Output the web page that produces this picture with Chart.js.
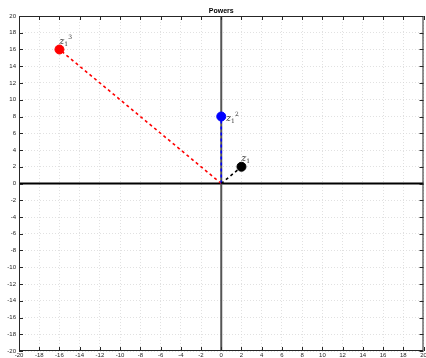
<!DOCTYPE html>
<html lang="en">
<head>
<meta charset="UTF-8" />
<title>Powers</title>
<script src="https://cdn.jsdelivr.net/npm/chart.js"></script>
<style>
  html, body { margin: 0; padding: 0; background: #fff; overflow: hidden; }
  #wrap { width: 426px; height: 358px; overflow: hidden; }
</style>
</head>
<body>
<div id="wrap"><canvas id="powersChart" width="429" height="358"></canvas></div>
<script>
// data
const pointX = [2, 0, -16];
const pointY = [2, 8, 16];
const powers = ['', '2', '3'];
const colors = ['#000000', '#0000ff', '#ff0000'];
const axisMin = -20, axisMax = 20, axisStep = 2;

const lineSets = pointX.map((x, i) => ({
  type: 'line',
  data: [{ x: 0, y: 0 }, { x: x, y: pointY[i] }],
  borderColor: colors[i],
  borderWidth: 1.6,
  borderDash: [3, 3],
  pointRadius: 0,
  fill: false
}));
const dotSets = pointX.map((x, i) => ({
  type: 'scatter',
  data: [{ x: x, y: pointY[i] }],
  backgroundColor: colors[i],
  borderColor: colors[i],
  pointRadius: 4.5
}));

// axes lines, inward ticks, title, point labels
const extras = {
  id: 'extras',
  beforeDatasetsDraw(chart) {
    const { ctx, chartArea: a, scales: { x, y } } = chart;
    ctx.save();
    ctx.lineWidth = 2;
    ctx.strokeStyle = '#000';
    ctx.beginPath();
    ctx.moveTo(a.left, y.getPixelForValue(0));
    ctx.lineTo(a.right, y.getPixelForValue(0));
    ctx.stroke();
    ctx.strokeStyle = '#555';
    ctx.beginPath();
    ctx.moveTo(x.getPixelForValue(0), a.top);
    ctx.lineTo(x.getPixelForValue(0), a.bottom);
    ctx.stroke();
    ctx.restore();
  },
  afterDraw(chart) {
    const { ctx, chartArea: a, scales: { x, y } } = chart;
    ctx.save();
    ctx.strokeStyle = '#262626';
    ctx.lineWidth = 1;
    ctx.strokeRect(a.left + 0.5, a.top + 0.5, a.right - a.left - 1, a.bottom - a.top - 1);
    ctx.beginPath();
    for (let v = axisMin; v <= axisMax; v += axisStep) {
      const px = Math.round(x.getPixelForValue(v)) + 0.5;
      ctx.moveTo(px, a.top); ctx.lineTo(px, a.top + 4);
      ctx.moveTo(px, a.bottom); ctx.lineTo(px, a.bottom - 4);
      const py = Math.round(y.getPixelForValue(v)) + 0.5;
      ctx.moveTo(a.left, py); ctx.lineTo(a.left + 4, py);
      ctx.moveTo(a.right, py); ctx.lineTo(a.right - 4, py);
    }
    ctx.stroke();

    ctx.fillStyle = '#000';
    ctx.font = 'bold 7px "Liberation Sans", Arial, sans-serif';
    ctx.textAlign = 'center';
    ctx.textBaseline = 'alphabetic';
    ctx.fillText('Powers', (a.left + a.right) / 2, a.top - 3);

    ctx.fillStyle = '#333';
    ctx.textAlign = 'left';
    pointX.forEach((vx, i) => {
      const px = x.getPixelForValue(vx);
      const py = y.getPixelForValue(pointY[i]);
      let lx, ly;
      if (i === 0) { lx = px; ly = py - 6; }
      else if (i === 1) { lx = px + 5; ly = py + 4; }
      else { lx = px + 0; ly = py - 6; }
      ctx.font = 'italic 9px "DejaVu Serif", "Liberation Serif", serif';
      ctx.fillText('z', lx, ly);
      const zw = ctx.measureText('z').width;
      ctx.font = '6px "DejaVu Serif", "Liberation Serif", serif';
      ctx.fillText('1', lx + zw, ly + 2);
      if (powers[i]) ctx.fillText(powers[i], lx + zw + 4, ly - 5);
    });
    ctx.restore();
  }
};

const tickFont = { size: 6, family: '"Liberation Sans", Arial, sans-serif' };
new Chart(document.getElementById('powersChart'), {
  type: 'scatter',
  data: { datasets: [...lineSets, ...dotSets] },
  options: {
    responsive: false,
    animation: false,
    layout: { padding: { top: 16, right: 3, left: 0, bottom: 0 } },
    plugins: { legend: { display: false }, tooltip: { enabled: false } },
    scales: {
      x: {
        min: axisMin, max: axisMax,
        ticks: { stepSize: axisStep, font: tickFont, color: '#262626', padding: 1, maxRotation: 0, autoSkip: false },
        grid: { color: '#d4d4d4', lineWidth: 0.7, tickLength: 0, drawTicks: false },
        border: { display: false, dash: [1, 2] },
        afterFit(s) { s.height = 7; }
      },
      y: {
        min: axisMin, max: axisMax,
        ticks: { stepSize: axisStep, font: tickFont, color: '#262626', padding: 3, autoSkip: false },
        grid: { color: '#d4d4d4', lineWidth: 0.7, tickLength: 0, drawTicks: false },
        border: { display: false, dash: [1, 2] },
        afterFit(s) { s.width = 19; }
      }
    }
  },
  plugins: [extras]
});
</script>
</body>
</html>
